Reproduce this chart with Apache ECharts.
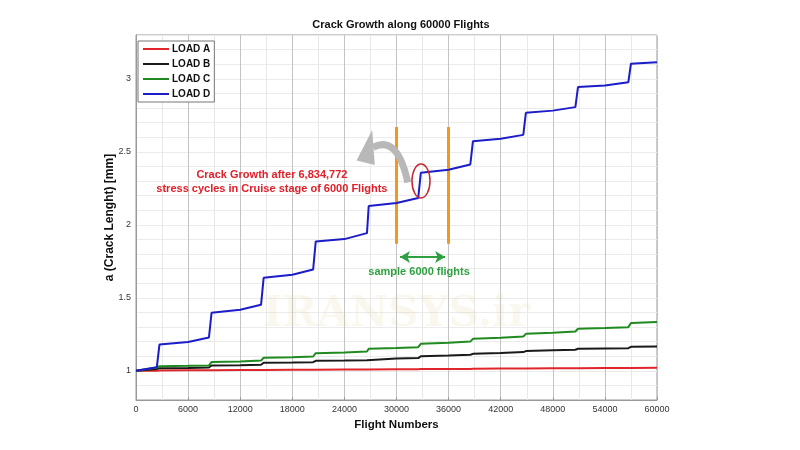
<!DOCTYPE html>
<html><head><meta charset="utf-8">
<script src="https://cdn.jsdelivr.net/npm/echarts@6/dist/echarts.min.js"></script>
<style>html,body{margin:0;padding:0;background:#fff}#c{width:800px;height:450px}</style>
</head><body><div id="c"></div>
<script>
const flights = [0,2400,2700,6000,8400,8700,12000,14400,14700,18000,20400,20700,24000,26600,26800,30000,32500,32800,36000,38500,38800,42000,44600,44900,48000,50600,50900,54000,56700,57000,60000];
const loadA = [1.0,1.001,1.002,1.003,1.003,1.004,1.005,1.005,1.006,1.007,1.007,1.008,1.009,1.009,1.010,1.011,1.011,1.012,1.013,1.013,1.014,1.015,1.015,1.016,1.017,1.017,1.018,1.019,1.019,1.020,1.021];
const loadB = [1.0,1.012,1.018,1.020,1.023,1.036,1.038,1.041,1.055,1.057,1.059,1.068,1.070,1.073,1.082,1.084,1.087,1.100,1.105,1.110,1.116,1.122,1.128,1.135,1.140,1.144,1.151,1.153,1.155,1.164,1.167];
const loadC = [1.0,1.022,1.032,1.034,1.037,1.060,1.064,1.070,1.089,1.093,1.098,1.121,1.126,1.132,1.151,1.156,1.162,1.185,1.192,1.200,1.219,1.227,1.235,1.253,1.260,1.269,1.288,1.293,1.299,1.327,1.334];
const loadD = [1.0,1.025,1.180,1.197,1.228,1.397,1.418,1.452,1.637,1.658,1.694,1.886,1.902,1.943,2.128,2.149,2.183,2.356,2.377,2.413,2.572,2.589,2.616,2.767,2.782,2.806,2.943,2.954,2.977,3.103,3.114];
const seriesNames = ['LOAD A','LOAD B','LOAD C','LOAD D'];
const seriesColors = ['#e0262b','#1a1a1a','#1f8a1f','#1c1cc8'];
const xTicks = [0,6000,12000,18000,24000,30000,36000,42000,48000,54000,60000];
const yTicks = [1,1.5,2,2.5,3];

const FONT = 'Liberation Sans';
const chart = echarts.init(document.getElementById('c'));
const allData = [loadA, loadB, loadC, loadD];
const series = allData.map((d, i) => ({
  name: seriesNames[i], type: 'line', showSymbol: false, symbol: 'none',
  data: d.map((v, k) => [flights[k], v]),
  lineStyle: {color: seriesColors[i], width: 2}, itemStyle: {color: seriesColors[i]},
  z: 3 + i
}));
series[3].markLine = {
  silent: true, symbol: 'none', animation: false,
  label: {show: false},
  data: [
    [{coord: [30000, 2.67], lineStyle: {color: '#f5961e', width: 3, type: 'solid'}}, {coord: [30000, 1.87]}],
    [{coord: [36000, 2.67], lineStyle: {color: '#f5961e', width: 3, type: 'solid'}}, {coord: [36000, 1.87]}]
  ]
};
series.push({
  name: 'arrow', type: 'line', data: [], silent: true,
  markLine: {
    silent: true, symbol: ['arrow', 'arrow'], symbolSize: [9, 10], animation: false,
    label: {show: false},
    lineStyle: {color: '#2fa040', width: 2, type: 'solid'},
    data: [[{coord: [30400, 1.78]}, {coord: [35600, 1.78]}]]
  }
});

chart.setOption({
  animation: false,
  backgroundColor: '#fff',
  title: {text: 'Crack Growth along 60000 Flights', left: 396, top: 14, textAlign: 'center',
    textStyle: {fontFamily: FONT, fontSize: 11, fontWeight: 'bold', color: '#111'}},
  legend: {
    data: seriesNames, orient: 'vertical', left: 138, top: 41,
    itemWidth: 26, itemHeight: 2, itemGap: 5, icon: 'rect',
    backgroundColor: '#fff', borderColor: '#777', borderWidth: 1, padding: [3, 4, 3, 5],
    textStyle: {fontFamily: FONT, fontSize: 10, fontWeight: 'bold', color: '#111', padding: [0,0,0,-2]}
  },
  grid: {left: 136, right: 143, top: 35, bottom: 50, show: true, borderColor: '#999', borderWidth: 1},
  xAxis: {
    type: 'value', min: 0, max: 60000, interval: 6000,
    name: 'Flight Numbers', nameLocation: 'middle', nameGap: 16,
    nameTextStyle: {fontFamily: FONT, fontSize: 11.5, fontWeight: 'bold', color: '#111'},
    axisLine: {show: true, lineStyle: {color: '#999'}},
    axisTick: {show: true, inside: true, length: 3, lineStyle: {color: '#999'}},
    axisLabel: {fontFamily: FONT, fontSize: 9, color: '#333', margin: 5,
      formatter: v => xTicks.includes(v) ? String(v) : ''},
    splitLine: {show: true, lineStyle: {color: '#c4c4c4', width: 1}},
    minorTick: {show: false, splitNumber: 2},
    minorSplitLine: {show: true, lineStyle: {color: '#e8e8e8', width: 1}}
  },
  yAxis: {
    type: 'value', min: 0.8, max: 3.3, interval: 0.1,
    name: 'a (Crack Lenght) [mm]', nameLocation: 'middle', nameGap: 20, nameMoveOverlap: false,
    nameTextStyle: {fontFamily: FONT, fontSize: 12, fontWeight: 'bold', color: '#111'},
    axisLine: {show: true, lineStyle: {color: '#999'}},
    axisTick: {show: false},
    axisLabel: {fontFamily: FONT, fontSize: 9, color: '#333', margin: 5,
      formatter: v => { const r = Math.round(v * 10) / 10; return yTicks.some(t => Math.abs(t - r) < 1e-6) ? String(r) : ''; }},
    splitLine: {show: true, lineStyle: {color: '#ebebeb', width: 1}}
  },
  series: series
});

// Annotations positioned in data coordinates
const P = (x, y) => chart.convertToPixel({gridIndex: 0}, [x, y]);
const tail = P(31300, 2.29), ctrl = P(30100, 2.62), end = P(27300, 2.53);
const tip = P(25400, 2.44), w1 = P(27200, 2.65), w2 = P(27500, 2.41);
const ell = P(32820, 2.30);
const txt = P(15650, 2.29);
const smp = P(32600, 1.68);
const wm = P(30000, 1.38);
chart.setOption({
  graphic: [
    {type: 'text', x: wm[0], y: wm[1], z: 1, style: {text: 'IRANSYS.ir', font: 'bold 42px "DejaVu Serif"', fill: 'rgba(225,215,160,0.18)', textAlign: 'center', textVerticalAlign: 'middle'}},
    {type: 'bezierCurve', z: 20, shape: {x1: tail[0], y1: tail[1], x2: end[0], y2: end[1], cpx1: ctrl[0], cpy1: ctrl[1]},
      style: {stroke: '#b8b8b8', lineWidth: 7, fill: null}},
    {type: 'polygon', z: 20, shape: {points: [tip, w1, w2]}, style: {fill: '#b8b8b8'}},
    {type: 'ellipse', z: 20, shape: {cx: ell[0], cy: ell[1], rx: 9, ry: 17}, style: {stroke: '#c8242c', lineWidth: 1.5, fill: null}},
    {type: 'text', z: 20, x: txt[0], y: txt[1], style: {text: 'Crack Growth after 6,834,772\nstress cycles in Cruise stage of 6000 Flights',
      font: 'bold 11px "Liberation Sans"', fill: '#e0202a', textAlign: 'center', textVerticalAlign: 'middle', lineHeight: 14}},
    {type: 'text', z: 20, x: smp[0], y: smp[1], style: {text: 'sample 6000 flights', font: 'bold 11px "Liberation Sans"', fill: '#2fa040', textAlign: 'center', textVerticalAlign: 'middle'}}
  ]
});
</script></body></html>
